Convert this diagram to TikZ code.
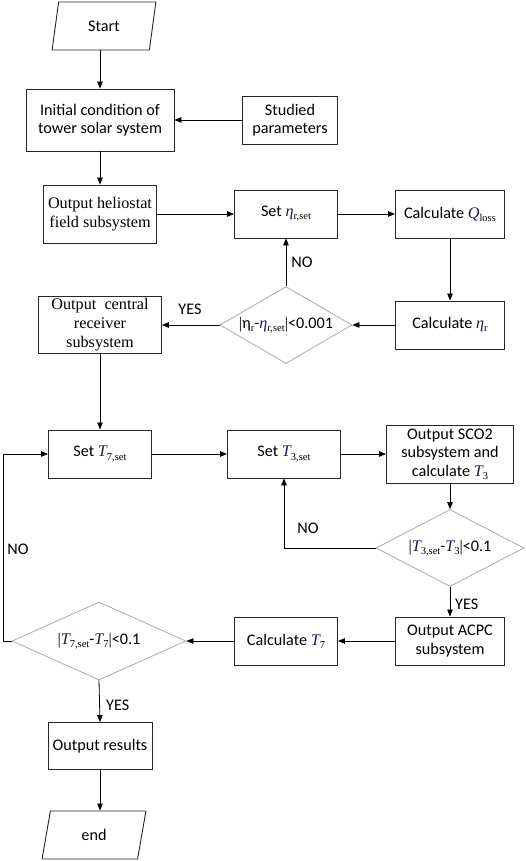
\documentclass[tikz,border=0pt]{standalone}
\usepackage{fontspec}
\setmainfont{Carlito}
\newfontfamily\tms{Liberation Serif}
\usetikzlibrary{shapes.geometric,arrows.meta}
\definecolor{mathc}{RGB}{25,25,75}
\definecolor{diagray}{RGB}{170,170,170}
\newcommand{\vm}[1]{{\tms\itshape\color{mathc}#1}}
\newcommand{\sbs}[1]{\raisebox{-0.4ex}{\tms\fontsize{10.5}{10.5}\selectfont #1}}
\tikzset{
  box/.style={draw=black!85, line width=0.9pt, align=center, inner sep=0pt},
  serif/.style={font=\tms\fontsize{16.2}{19}\selectfont},
  para/.style={trapezium, trapezium left angle=78, trapezium right angle=102,
    trapezium stretches=true, draw=black!85, line width=0.9pt, inner sep=0pt},
  dia/.style={diamond, draw=diagray, line width=0.8pt, inner sep=0pt},
  arr/.style={-{Triangle[length=7pt,width=5.5pt]}, line width=0.8pt},
  lab/.style={inner sep=0pt}
}
\begin{document}
\begin{tikzpicture}[x=1pt,y=-1pt,font=\fontsize{16.2}{18.5}\selectfont]
\useasboundingbox (0,0) rectangle (526,861);
% nodes
\node[para, minimum width=104pt, minimum height=48pt] (start) at (104,26) {Start};
\node[box, minimum width=148pt, minimum height=62pt] (init) at (100,120) {Initial condition of\\tower solar system};
\node[box, minimum width=95pt, minimum height=48pt] (studied) at (290,120) {Studied\\parameters};
\node[box, serif, minimum width=113pt, minimum height=58pt] (helio) at (100,214) {Output heliostat\\field subsystem};
\node[box, minimum width=103pt, minimum height=48pt] (seteta) at (286,214) {Set \vm{η}\sbs{r,set}};
\node[box, minimum width=109pt, minimum height=48pt] (qloss) at (450,214) {Calculate \vm{Q}\sbs{loss}};
\node[box, minimum width=109pt, minimum height=48pt] (calceta) at (450,325) {Calculate \vm{η}\sbs{r}};
\node[dia, minimum width=132pt, minimum height=77pt] (d1) at (286,325) {};
\node[lab] (d1t) at (d1.center) {{\tms|}η\sbs{r}-\vm{η}\sbs{r,set}{\tms|}<0.001};
\node[box, serif, minimum width=123pt, minimum height=57pt] (central) at (100,325) {Output\ \ central\\receiver\\subsystem};
\node[box, minimum width=103pt, minimum height=48pt] (setT7) at (100,454) {Set \vm{T}\sbs{7,set}};
\node[box, minimum width=113pt, minimum height=48pt] (setT3) at (284,454) {Set \vm{T}\sbs{3,set}};
\node[box, minimum width=127pt, minimum height=58pt] (sco2) at (450,454) {Output SCO2\\subsystem and\\calculate \vm{T}\sbs{3}};
\node[dia, minimum width=148pt, minimum height=77pt] (d2) at (450,548) {};
\node[lab] (d2t) at (d2.center) {{\tms|}\vm{T}\sbs{3,set}-\vm{T}\sbs{3}{\tms|}<0.1};
\node[box, minimum width=109pt, minimum height=48pt] (acpc) at (450,641) {Output ACPC\\subsystem};
\node[box, minimum width=103pt, minimum height=48pt] (calcT7) at (286,641) {Calculate \vm{T}\sbs{7}};
\node[dia, minimum width=174pt, minimum height=78pt] (d3) at (99,641) {};
\node[lab] (d3t) at (d3.center) {{\tms|}\vm{T}\sbs{7,set}-\vm{T}\sbs{7}{\tms|}<0.1};
\node[box, minimum width=104pt, minimum height=47pt] (results) at (100,746) {Output results};
\node[para, minimum width=104pt, minimum height=48pt] (end) at (94,835) {end};
\coordinate (lft) at (3,641);
% labels
\node[lab] (no1) at (302,262) {NO};
\node[lab] (yes1) at (190,309) {YES};
\node[lab] (no2) at (308,528) {NO};
\node[lab, anchor=west] (yes2) at (455,604) {YES};
\node[lab] (no3) at (18,549) {NO};
\node[lab, anchor=west] (yes3) at (106,705) {YES};
% connectors
\draw[arr] (start.south -| init.north) -- (init.north);
\draw[arr] (studied.west) -- (init.east);
\draw[arr] (init.south) -- (helio.north);
\draw[arr] (helio.east) -- (seteta.west);
\draw[arr] (seteta.east) -- (qloss.west);
\draw[arr] (qloss.south) -- (calceta.north);
\draw[arr] (calceta.west) -- (d1.east);
\draw[arr] (d1.north) -- (seteta.south);
\draw[arr] (d1.west) -- (central.east);
\draw[arr] (central.south) -- (setT7.north);
\draw[arr] (setT7.east) -- (setT3.west);
\draw[arr] (setT3.east) -- (sco2.west);
\draw[arr] (sco2.south) -- (d2.north);
\draw[arr] (d2.west) -| (setT3.south);
\draw[arr] (d2.south) -- (acpc.north);
\draw[arr] (acpc.west) -- (calcT7.east);
\draw[arr] (calcT7.west) -- (d3.east);
\draw[arr] (d3.west) -- (lft) |- (setT7.west);
\draw[arr] (d3.south) -- (results.north);
\draw[arr] (results.south) -- (end.north -| results.south);
\end{tikzpicture}
\end{document}
